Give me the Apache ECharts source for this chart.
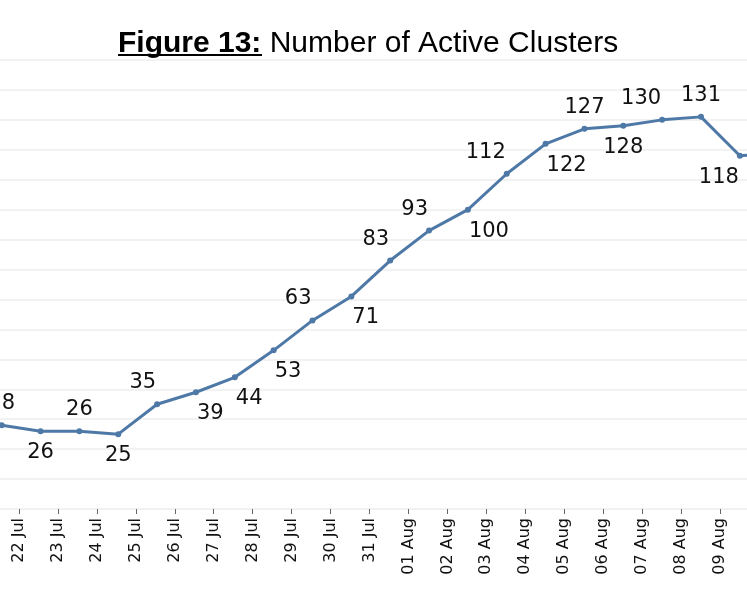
<!DOCTYPE html>
<html>
<head>
<meta charset="utf-8">
<title>Number of Active Clusters</title>
<script src="https://cdn.jsdelivr.net/npm/echarts@6/dist/echarts.min.js"></script>
<style>
  html, body { margin: 0; padding: 0; background: #fff; }
  #chart { width: 747px; height: 598px; }
</style>
</head>
<body>
<div id="chart"></div>
<script>
// Figure 13: number of active clusters per day

// axis labels shown under the chart
var tickLabels = ['22 Jul', '23 Jul', '24 Jul', '25 Jul', '26 Jul', '27 Jul', '28 Jul',
    '29 Jul', '30 Jul', '31 Jul', '01 Aug', '02 Aug', '03 Aug', '04 Aug', '05 Aug',
    '06 Aug', '07 Aug', '08 Aug', '09 Aug'];

// days of the line (first and last fall outside the picture)
var days = ['20 Jul', '21 Jul', '22 Jul', '23 Jul', '24 Jul', '25 Jul', '26 Jul', '27 Jul',
    '28 Jul', '29 Jul', '30 Jul', '31 Jul', '01 Aug', '02 Aug', '03 Aug', '04 Aug',
    '05 Aug', '06 Aug', '07 Aug', '08 Aug', '09 Aug', '10 Aug'];

var clusters = [null, 28, 26, 26, 25, 35, 39, 44, 53, 63, 71, 83, 93, 100, 112,
    122, 127, 128, 130, 131, 118, 119];

// where each value label sits: t = above, b = below, tl / br / bl = diagonal
var labelSide = ['t', 't', 'b', 't', 'b', 'tl', 'br', 'br', 'br', 'tl', 'br', 'tl', 'tl',
    'br', 'tl', 'br', 't', 'b', 'tl', 't', 'bl', 't'];

var blue = '#4e79a7';

var points = [];
for (var i = 0; i < clusters.length; i++) {
    var side = labelSide[i];
    var lab = {
        position: side.charAt(0) == 't' ? 'top' : 'bottom'
    };
    if (side.length > 1) {
        lab.align = side.charAt(1) == 'l' ? 'right' : 'left';
        lab.offset = [side.charAt(1) == 'l' ? -1 : 1, 0];
    }
    points.push({ value: clusters[i], label: lab });
}

var step = 38.85;

var chart = echarts.init(document.getElementById('chart'), null, { renderer: 'canvas' });

var option = {
    animation: false,
    backgroundColor: '#fff',
    title: {
        text: '{b|Figure 13:} Number of Active Clusters',
        left: 113,
        top: 24,
        textStyle: {
            fontFamily: 'Liberation Sans',
            fontSize: 30,
            fontWeight: 'normal',
            color: '#000',
            rich: {
                b: {
                    fontFamily: 'Liberation Sans',
                    fontSize: 30,
                    fontWeight: 'bold',
                    color: '#000'
                }
            }
        }
    },
    graphic: [{
        type: 'rect',
        shape: { x: 118, y: 54, width: 144, height: 2 },
        style: { fill: '#000' },
        silent: true
    }],
    grid: [
        { left: 1.7 - step, top: 60, width: step * (days.length - 1), height: 449,
          containLabel: false, outerBoundsMode: 'none' },
        { left: 19, top: 60, width: 701, height: 449,
          containLabel: false, outerBoundsMode: 'none' }
    ],
    xAxis: [{
        gridIndex: 0,
        type: 'category',
        data: days,
        boundaryGap: false,
        axisLine: { show: false },
        axisTick: { show: false },
        axisLabel: { show: false },
        splitLine: { show: false }
    }, {
        gridIndex: 1,
        type: 'category',
        data: tickLabels,
        boundaryGap: false,
        axisLine: { show: false },
        axisTick: { show: true, length: 5, lineStyle: { color: '#666', width: 1 } },
        axisLabel: {
            rotate: 90,
            margin: 9,
            fontFamily: 'DejaVu Sans',
            fontSize: 16,
            color: '#111',
            interval: 0
        },
        splitLine: { show: false }
    }],
    yAxis: [{
        gridIndex: 0,
        type: 'value',
        min: 0,
        max: 150,
        interval: 10,
        axisLine: { show: false },
        axisTick: { show: false },
        axisLabel: { show: false },
        splitLine: { show: true, lineStyle: { color: '#eeeeee', width: 1.5 } }
    }, {
        gridIndex: 1,
        type: 'value',
        min: 0,
        max: 150,
        show: false
    }],
    series: [{
        name: 'Active Clusters',
        type: 'line',
        xAxisIndex: 0,
        yAxisIndex: 0,
        data: points,
        symbol: 'circle',
        symbolSize: 6,
        connectNulls: false,
        lineStyle: { color: blue, width: 3 },
        itemStyle: { color: blue },
        label: {
            show: true,
            distance: 8,
            fontFamily: 'DejaVu Sans',
            fontSize: 21,
            color: '#111'
        }
    }]
};

chart.setOption(option);
</script>
</body>
</html>
